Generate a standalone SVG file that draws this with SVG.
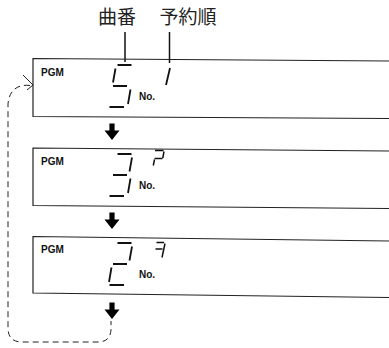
<svg xmlns="http://www.w3.org/2000/svg" width="389" height="348" viewBox="0 0 389 348">
<style>
.box{fill:none;stroke:#222;stroke-width:1.2}
.seg{fill:none;stroke:#111;stroke-width:1.8;stroke-linecap:butt}
.sm{stroke-width:1.5}
.pgm{font-family:"Liberation Sans",Arial,sans-serif;font-weight:bold;font-size:10px;fill:#111}
.no{font-family:"Liberation Sans",Arial,sans-serif;font-weight:bold;font-size:10px;fill:#111}
.lbl{font-family:"Noto Sans CJK JP","Noto Sans CJK SC",sans-serif;font-size:19px;fill:#222}
.lead{stroke:#111;stroke-width:1.5}
.arr{fill:#000}
.dash{fill:none;stroke:#222;stroke-width:1;stroke-dasharray:6 4}
</style>
<defs>
<path id="downArrow" class="arr" d="M-2.6,0 L2.6,0 L2.6,7 L7.5,7 L0,16.5 L-7.5,7 L-2.6,7 Z"/>
</defs>

<g id="labels">
<text class="lbl" x="117" y="24" text-anchor="middle">曲番</text>
<text class="lbl" x="188" y="24" text-anchor="middle">予約順</text>
<line class="lead" x1="125" y1="32" x2="125" y2="62"/>
<line class="lead" x1="169.5" y1="32" x2="169.5" y2="63"/>
</g>

<g id="display1">
<path class="box" d="M389,61 L33,58.5 L33,116.5 L389,118.5"/>
<text class="pgm" x="41" y="76">PGM</text>
<path class="seg" d="M117.5,65 L131.5,65 M115.5,68.5 L113,82.5 M113,86 L127,86 M130.5,89.5 L128,104 M109.5,107 L124,107"/>
<text class="no" x="139" y="100">No.</text>
<path class="seg" d="M170,68 L166,85"/>
</g>

<g id="display2">
<path class="box" d="M389,151 L33,148 L33,205.5 L389,208.5"/>
<text class="pgm" x="41" y="165">PGM</text>
<g transform="translate(0,89)">
<path class="seg" d="M117.5,65 L131.5,65 M132,68.5 L129.5,82.5 M113,86 L127,86 M130.5,89.5 L128,104 M109.5,107 L124,107"/>
<text class="no" x="139" y="100">No.</text>
</g>
<path class="seg sm" d="M155,150.5 L163.5,150.5 M164,151.5 L162.8,158 M154.5,158.5 L162.5,158.5 M154.5,159.5 L153.3,165.5"/>
</g>

<g id="display3">
<path class="box" d="M389,241 L33,236.5 L33,293 L389,297.5"/>
<text class="pgm" x="41" y="253">PGM</text>
<g transform="translate(0,178)">
<path class="seg" d="M117.5,65 L131.5,65 M132,68.5 L129.5,82.5 M113,86 L127,86 M111.5,89.5 L109,104 M109.5,107 L124,107"/>
<text class="no" x="139" y="100">No.</text>
</g>
<path class="seg sm" d="M156.5,242.5 L164,242.5 M155.5,249 L162.5,249 M165,243.5 L162,257.5"/>
</g>

<g id="connectors">
<use href="#downArrow" x="112" y="123.5"/>
<use href="#downArrow" x="112" y="212.5"/>
<use href="#downArrow" x="112" y="302.5"/>
<path class="dash" d="M30,85.5 C18,84 9,90 8,104 L8,328 Q8,342 22,342 L98,342 Q110,342 111,330 L111,321"/>
<polyline fill="none" stroke="#222" stroke-width="1" points="23,75 33,85 27,90"/>
</g>
</svg>
